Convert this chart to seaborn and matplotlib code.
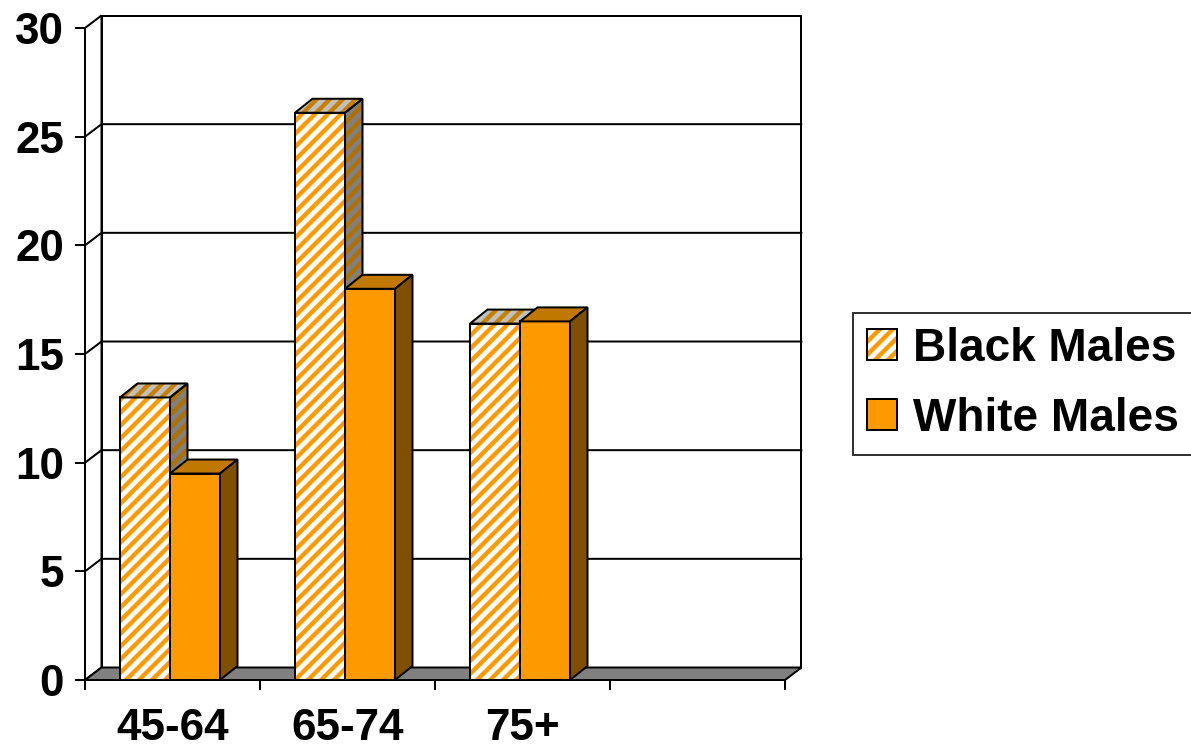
import numpy as np
import pandas as pd
import matplotlib
matplotlib.use("Agg")
import matplotlib.pyplot as plt
import seaborn as sns
from matplotlib.patches import Polygon, Rectangle, Patch

# ---- data ----
categories = ["45-64", "65-74", "75+"]
series_names = ["Black Males", "White Males"]
black_males = [13.0, 26.1, 16.4]
white_males = [9.5, 18.0, 16.5]
y_ticks = [0, 5, 10, 15, 20, 25, 30]
n_slots = 4  # one empty category slot on the right

# ---- style ----
DPI = 78
def pt(p):
    return p * 72 / DPI

sns.set_theme(style="white")
plt.rcParams["font.family"] = ["Liberation Sans", "DejaVu Sans"]
plt.rcParams["font.weight"] = "bold"
plt.rcParams["hatch.linewidth"] = pt(4.4)
for k in ["text.color", "xtick.color", "ytick.color", "axes.labelcolor"]:
    plt.rcParams[k] = "black"

ORANGE = "#FF9900"
FS = pt(44)
LW = pt(2)
HATCH = "//"

W, H = 1191, 750
fig = plt.figure(figsize=(W / DPI, H / DPI), dpi=DPI)

x_front_left, x_front_right = 85, 785
y_floor_front, y_top_front = 680, 28
dpx, dpy = 16.5, 12.5          # depth of walls / floor
bpx, bpy = 17.5, 14.0          # depth of bars
ymax = y_ticks[-1]
unit_x = (x_front_right - x_front_left) / n_slots
unit_y = (y_floor_front - y_top_front) / ymax
DX, DY = dpx / unit_x, dpy / unit_y
BX, BY = bpx / unit_x, bpy / unit_y

ax = fig.add_axes([x_front_left / W, 1 - y_floor_front / H,
                   (x_front_right + dpx - x_front_left) / W,
                   (y_floor_front - (y_top_front - dpy)) / H])

df = pd.DataFrame({
    "age": categories * 2,
    "group": [s for s in series_names for _ in categories],
    "value": black_males + white_males,
})

sns.barplot(data=df, x="age", y="value", hue="group", order=categories,
            hue_order=series_names, palette=["white", ORANGE], width=0.5714,
            saturation=1, errorbar=None, edgecolor="black", linewidth=LW,
            legend=False, ax=ax)

ax.set_xlim(-0.5, n_slots - 0.5 + DX)
ax.set_ylim(0, ymax + DY)
for s in ax.spines.values():
    s.set_visible(False)
ax.set_xlabel("")
ax.set_ylabel("")

# ---- walls, gridlines, floor ----
x0 = -0.5
x1 = n_slots - 0.5
ax.add_patch(Polygon([(x0, 0), (x0 + DX, DY), (x0 + DX, ymax + DY), (x0, ymax)],
                     closed=True, fc="white", ec="black", lw=LW, zorder=1, clip_on=False))
ax.add_patch(Rectangle((x0 + DX, DY), x1 - x0, ymax, fill=False, ec="black",
                       lw=LW, zorder=1, clip_on=False))
for v in y_ticks[1:-1]:
    ax.plot([x0, x0 + DX, x1 + DX], [v, v + DY, v + DY], color="black",
            lw=LW, zorder=1.5, clip_on=False)
ax.add_patch(Polygon([(x0, 0), (x1, 0), (x1 + DX, DY), (x0 + DX, DY)],
                     closed=True, fc="#808080", ec="black", lw=LW, zorder=2,
                     clip_on=False))

# ---- 3D bars ----
bars = []
for ci, cont in enumerate(ax.containers):
    for bar in cont:
        bar.set_x(bar.get_x() - 2.5 / unit_x)
        bars.append((bar.get_x(), ci, bar))
bars.sort(key=lambda t: t[0])

face_styles = {
    0: dict(front=("white", ORANGE), top=("#C0C0C0", "#C88000"), side=("#808080", "#B07000")),
    1: dict(front=(ORANGE, None), top=("#C07800", None), side=("#805000", None)),
}

for k, (x, ci, bar) in enumerate(bars):
    z = 5 + k * 0.1
    w = bar.get_width()
    h = bar.get_height()
    st = face_styles[ci]
    fc, hc = st["front"]
    bar.set_zorder(z)
    if hc is not None:
        bar.set_facecolor(fc)
        bar.set_edgecolor(hc)
        bar.set_hatch(HATCH)
        bar.set_linewidth(0)
        ax.add_patch(Rectangle((x, 0), w, h, fill=False, ec="black", lw=LW, zorder=z + 0.01))
    top = [(x, h), (x + w, h), (x + w + BX, h + BY), (x + BX, h + BY)]
    side = [(x + w, 0), (x + w + BX, BY), (x + w + BX, h + BY), (x + w, h)]
    for poly, key in [(top, "top"), (side, "side")]:
        pfc, phc = st[key]
        if phc is not None:
            ax.add_patch(Polygon(poly, closed=True, fc=pfc, ec=phc, hatch=HATCH, lw=0, zorder=z + 0.02))
            ax.add_patch(Polygon(poly, closed=True, fill=False, ec="black", lw=LW, zorder=z + 0.03))
        else:
            ax.add_patch(Polygon(poly, closed=True, fc=pfc, ec="black", lw=LW, zorder=z + 0.02))

# ---- ticks ----
ax.set_yticks(y_ticks)
ax.set_yticklabels([str(v) for v in y_ticks])
ax.tick_params(axis="y", left=True, length=pt(10), width=LW, pad=pt(11),
               labelsize=FS)
ax.set_xticks(range(len(categories)))
ax.set_xticklabels(categories)
ax.set_xticks(np.arange(-0.5, n_slots, 1), minor=True)
ax.tick_params(axis="x", which="major", bottom=False, length=0, pad=pt(28), labelsize=FS)
ax.tick_params(axis="x", which="minor", bottom=True, length=pt(10), width=LW)
for lab in ax.get_xticklabels() + ax.get_yticklabels():
    lab.set_fontweight("bold")

# ---- legend ----
LFS = pt(46)
handles = [
    (Patch(fc="white", ec=ORANGE, hatch=HATCH, lw=0), Patch(fill=False, ec="black", lw=LW)),
    Patch(fc=ORANGE, ec="black", lw=LW),
]
leg = fig.legend(handles, series_names, loc="upper left",
                 bbox_to_anchor=(853 / W, 1 - 313 / H), bbox_transform=fig.transFigure,
                 prop=dict(size=LFS, weight="bold"), frameon=True, fancybox=False,
                 edgecolor="black", handlelength=0.65, handleheight=0.65,
                 handletextpad=0.36, labelspacing=0.565, borderpad=0.3,
                 borderaxespad=0)
leg.get_frame().set_linewidth(LW)
leg.get_frame().set_facecolor("white")

fig.savefig("out.png", dpi=DPI)
